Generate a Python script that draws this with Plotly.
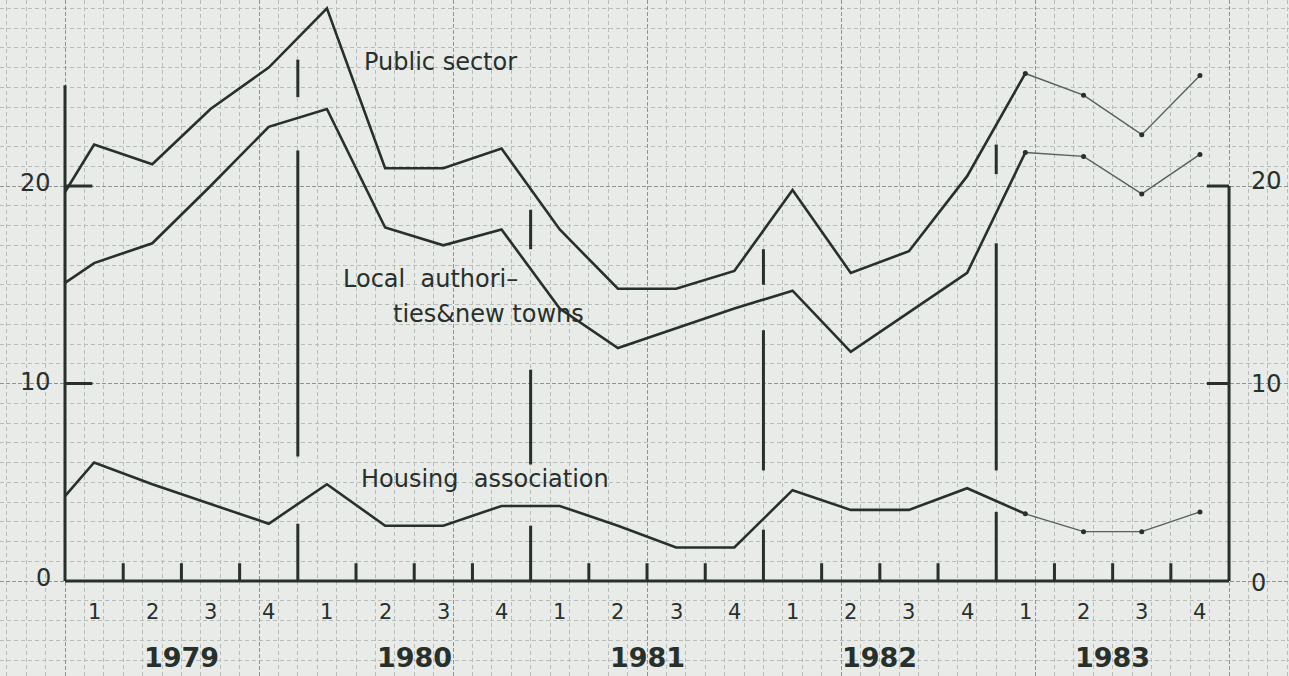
import plotly.graph_objects as go

# quarterly values, 1979 Q1 .. 1983 Q4
quarter_labels = ["1", "2", "3", "4"] * 5
years = ["1979", "1980", "1981", "1982", "1983"]

public_sector = [22.1, 21.1, 23.9, 26.0, 29.0, 20.9, 20.9, 21.9, 17.8, 14.8,
                 14.8, 15.7, 19.8, 15.6, 16.7, 20.5, 25.7, 24.6, 22.6, 25.6]
local_auth = [16.1, 17.1, 20.0, 23.0, 23.9, 17.9, 17.0, 17.8, 13.8, 11.8,
              12.8, 13.8, 14.7, 11.6, 13.6, 15.6, 21.7, 21.5, 19.6, 21.6]
housing_assoc = [6.0, 4.9, 3.9, 2.9, 4.9, 2.8, 2.8, 3.8, 3.8, 2.8,
                 1.7, 1.7, 4.6, 3.6, 3.6, 4.7, 3.4, 2.5, 2.5, 3.5]
# value where each line meets the left axis (end of 1978)
start_values = [19.7, 15.1, 4.3]

# broken year divider lines: (from, to) in y units
divider_segments = [
    [(24.5, 26.4), (6.3, 21.8), (0, 2.9)],
    [(16.8, 18.8), (5.9, 10.7), (0, 2.8)],
    [(15.0, 16.8), (5.6, 12.7), (0, 2.6)],
    [(20.6, 22.1), (5.6, 17.1), (0, 3.5)],
]

ink = "#27302b"
faint = "#56605b"
font = "DejaVu Sans"

qx = [i + 0.5 for i in range(len(quarter_labels))]
n_solid = 17  # up to 1983 Q1 drawn solid, 1983 provisional thin

fig = go.Figure()
for start, series in zip(start_values, [public_sector, local_auth, housing_assoc]):
    fig.add_trace(go.Scatter(x=[0] + qx[:n_solid], y=[start] + series[:n_solid],
                             mode="lines", line=dict(color=ink, width=2.6),
                             showlegend=False, hoverinfo="skip"))
    fig.add_trace(go.Scatter(x=qx[n_solid - 1:], y=series[n_solid - 1:],
                             mode="lines+markers", line=dict(color=faint, width=1.4),
                             marker=dict(color=ink, size=5),
                             showlegend=False, hoverinfo="skip"))

shapes = []
def seg(x0, y0, x1, y1, w=3):
    shapes.append(dict(type="line", xref="x", yref="y", x0=x0, y0=y0, x1=x1, y1=y1,
                       line=dict(color=ink, width=w)))

# axes
seg(0, 0, 0, 25.1)
seg(0, 0, 20, 0)
seg(20, 0, 20, 20)
for v in [10, 20]:
    seg(0, v, 0.47, v)
    seg(19.62, v, 20, v)
# quarter ticks
for b in range(1, 20):
    if b % 4:
        seg(b, 0, b, 0.9)
# year dividers
for i, segs in enumerate(divider_segments):
    xb = 4 * (i + 1)
    for y0, y1 in segs:
        seg(xb, y0, xb, y1)

annotations = []
def label(x, y, text, size, anchor="center", weight="normal"):
    annotations.append(dict(x=x, y=y, xref="x", yref="y", text=text, showarrow=False,
                            xanchor=anchor, yanchor="middle",
                            font=dict(family=font, size=size, color=ink, weight=weight)))

for q, t in zip(qx, quarter_labels):
    label(q, -1.57, t, 21)
for i, yr in enumerate(years):
    label(2 + 4 * i, -3.85, yr, 27, weight="bold")

for v, yv in [(20, 20.15), (10, 10.1), (0, 0.15)]:
    label(-0.2, yv, str(v), 24, "right")
for v, yv in [(20, 20.25), (10, 10.0), (0, -0.1)]:
    label(20.35, yv, str(v), 24, "left")

label(5.1, 26.3, "Public sector", 24, "left")
label(4.75, 15.3, "Local  authori–", 24, "left")
label(5.6, 13.5, "ties&new towns", 24, "left")
label(5.05, 5.15, "Housing  association", 24, "left")

fig.update_layout(
    width=1289, height=676,
    margin=dict(l=0, r=0, t=0, b=0),
    paper_bgcolor="#e9ebe9", plot_bgcolor="#e9ebe9",
    shapes=shapes, annotations=annotations,
    xaxis=dict(range=[-1.117, 21.03], showticklabels=False, zeroline=False,
               tick0=0, dtick=10 / 3, showgrid=True, gridcolor="#8e9490", gridwidth=1.3,
               griddash="4px,2px",
               minor=dict(tick0=0, dtick=1 / 3, showgrid=True, gridcolor="#b8bdba",
                          gridwidth=1, griddash="4px,3px")),
    yaxis=dict(range=[-4.81, 29.42], showticklabels=False, zeroline=False,
               tick0=0, dtick=10, showgrid=True, gridcolor="#8e9490", gridwidth=1.3,
               griddash="4px,2px",
               minor=dict(tick0=0, dtick=1, showgrid=True, gridcolor="#b8bdba",
                          gridwidth=1, griddash="4px,3px")),
)

fig.write_html("out.html", config={"displayModeBar": False},
               post_script="document.body.style.margin='0';")
